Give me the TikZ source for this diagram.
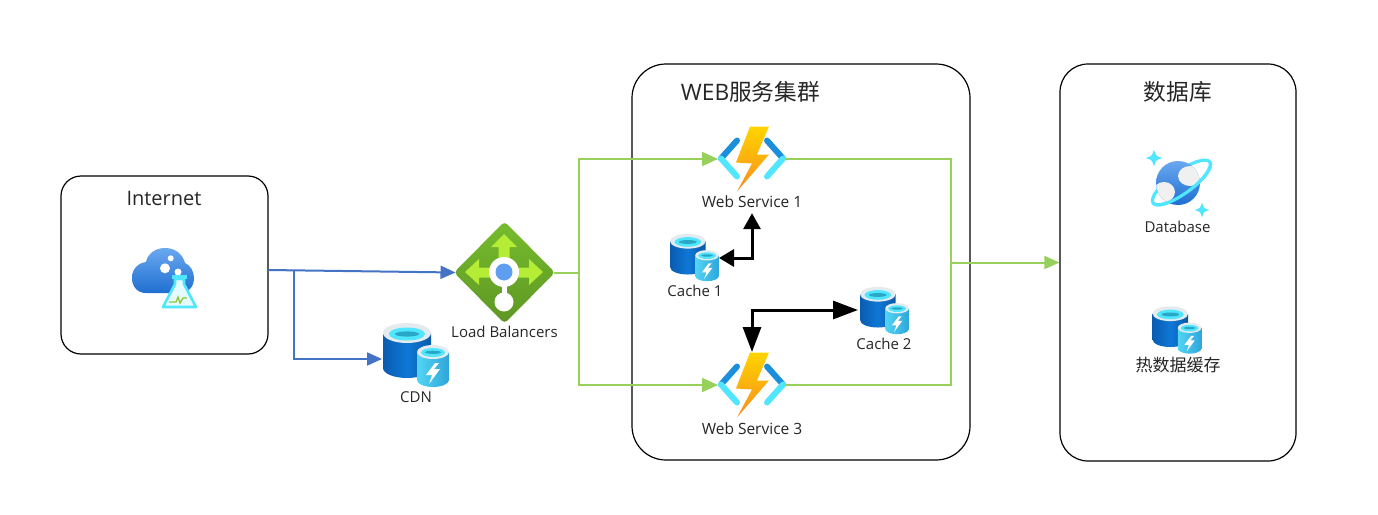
\documentclass[tikz,border=0pt]{standalone}
\usepackage{fontspec}
\setmainfont{Open Sans}
\newfontfamily\cjk{Noto Sans CJK SC}
\usetikzlibrary{arrows.meta}
\definecolor{bluel}{HTML}{4472C4}
\definecolor{greenl}{HTML}{97D05A}
\definecolor{cyanA}{HTML}{50E6FF}
\definecolor{bigL}{HTML}{0A5CB0}
\definecolor{bigM}{HTML}{0E78D6}
\definecolor{bigR}{HTML}{0A5AA8}
\definecolor{rimC}{HTML}{E3EBEF}
\definecolor{innerD}{HTML}{2AA6C6}
\definecolor{smallL}{HTML}{52D4F4}
\definecolor{smallR}{HTML}{2FA6DA}
\definecolor{boltT}{HTML}{FFD400}
\definecolor{boltB}{HTML}{F78D1E}
\definecolor{darkB}{HTML}{1B8FDC}
\definecolor{skyT}{HTML}{6AA8F0}
\definecolor{skyB}{HTML}{1F6FD0}
\definecolor{lbT}{HTML}{76BC2D}
\definecolor{lbB}{HTML}{5E9624}
\definecolor{limeA}{HTML}{B4EC36}
\definecolor{dotB}{HTML}{5EA0EF}
\definecolor{pulseG}{HTML}{8CC83C}
\definecolor{flaskF}{HTML}{E6FBFF}
\tikzset{
 box/.style={draw=black,line width=1.2pt,fill=white},
 title/.style={font=\fontsize{20}{24}\selectfont,text=black!85},
 bigtitle/.style={font=\fontsize{22.7}{27}\selectfont,text=black!85},
 label/.style={font=\fontsize{15}{18}\selectfont,text=black!85,inner sep=0pt},
 icon/.style={inner sep=0pt,outer sep=0pt},
 blueline/.style={draw=bluel,line width=2pt},
 greenline/.style={draw=greenl,line width=2pt},
 blackline/.style={draw=black,line width=3pt},
 dbicon/.pic={
  % big cylinder
  \path[left color=bigL,right color=bigR,middle color=bigM] (-33,-22) -- (-33,13) arc[start angle=180,end angle=360,x radius=24,y radius=-10] -- (15,-22) -- cycle;
  \fill[rimC] (-9,-22) ellipse [x radius=24,y radius=10];
  \fill[cyanA] (-9,-21) ellipse [x radius=18,y radius=6.5];
  \fill[innerD] (-9,-21) ellipse [x radius=12,y radius=2.6];
  % small cylinder
  \path[left color=smallL,right color=smallR] (1,-3) -- (1,25) arc[start angle=180,end angle=360,x radius=16,y radius=-7] -- (33,-3) -- cycle;
  \fill[rimC] (17,-3) ellipse [x radius=16,y radius=7];
  \fill[cyanA] (17,-2.5) ellipse [x radius=12,y radius=4.5];
  \fill[innerD] (17,-2.7) ellipse [x radius=8,y radius=1.6];
  \fill[white] (19,8) -- (10,20) -- (16,20) -- (13,29) -- (24,14) -- (18,14) -- (23,8) -- cycle;
 },
 funcicon/.pic={
  \path[top color=boltT,bottom color=boltB] (-2,-33) -- (17,-33) -- (5,-5) -- (17,-5) -- (-15,32) -- (0,4) -- (-16,3) -- cycle;
  \draw[line width=6pt,draw=darkB,line cap=round] (-15,-19) -- (-31,-1);
  \draw[line width=6pt,draw=cyanA,line cap=round] (-31,-1) -- (-15,17);
  \draw[line width=6pt,draw=darkB,line cap=round] (15,-19) -- (31,-1);
  \draw[line width=6pt,draw=cyanA,line cap=round] (31,-1) -- (15,17);
 }
}
\begin{document}
\begin{tikzpicture}[x=1pt,y=-1pt]
\useasboundingbox (0,0) rectangle (1378,514);
\fill[white] (0,0) rectangle (1378,514);
% containers
\node[box,rounded corners=20pt,minimum width=207pt,minimum height=178pt] (inet) at (164.5,265) {};
\node[box,rounded corners=34pt,minimum width=338pt,minimum height=396pt] (web) at (801,262) {};
\node[box,rounded corners=28pt,minimum width=236pt,minimum height=397pt] (dbbox) at (1178,262.5) {};
\node[title] (inettitle) at (164,198) {Internet};
\node[bigtitle] (webtitle) at (750.5,92) {WEB{\cjk 服务集群}};
\node[bigtitle] (dbtitle) at (1178,92) {\cjk 数据库};
% icon holders
\node[icon,minimum width=62pt,minimum height=62pt] (lab) at (164,278) {};
\node[icon,minimum width=98pt,minimum height=98pt] (lb) at (504.5,272.5) {};
\node[icon,minimum width=68pt,minimum height=72pt] (cdn) at (416,359) {};
\node[icon,minimum width=68pt,minimum height=66pt] (ws1) at (752,159) {};
\node[icon,minimum width=68pt,minimum height=66pt] (ws3) at (752,385) {};
\node[icon,minimum width=49pt,minimum height=47pt] (cache1) at (694.5,258) {};
\node[icon,minimum width=53pt,minimum height=47pt] (cache2) at (884.5,310) {};
\node[icon,minimum width=60pt,minimum height=62pt] (cosmos) at (1179,184) {};
\node[icon,minimum width=49pt,minimum height=47pt] (hot) at (1177,330) {};
% labels
\node[label] (lbllb) at (504.5,331.5) {Load Balancers};
\node[label] (lblcdn) at (416,397.5) {CDN};
\node[label,font=\fontsize{15.5}{22}\selectfont,minimum height=22pt] (lblws1) at (752,202) {Web Service 1};
\node[label,font=\fontsize{15.5}{22}\selectfont] (lblws3) at (752,429) {Web Service 3};
\node[label] (lblc1) at (695,291) {Cache 1};
\node[label] (lblc2) at (884,344) {Cache 2};
\node[label] (lbldb) at (1177.5,227) {Database};
\node[label,font=\fontsize{17}{20}\selectfont\cjk] (lblhot) at (1178,365) {热数据缓存};
% connectors
\coordinate (inetout) at (268,270);
\coordinate (blueturn) at (294,270);
\coordinate (greenjoin) at (579,272.5);
\coordinate (dbjoin) at (951,262.5);
\coordinate (rightside) at (951,159);
\draw[blueline,-{Triangle[length=15pt,width=13pt]}] (inetout) -- (lb.west);
\draw[blueline,-{Triangle[length=15pt,width=13pt]}] (blueturn) |- (cdn.west);
\draw[greenline] (lb.east) -- (greenjoin);
\draw[greenline,-{Triangle[length=16pt,width=14pt]}] (greenjoin) |- (ws1.west);
\draw[greenline,-{Triangle[length=16pt,width=14pt]}] (greenjoin) |- (ws3.west);
\draw[greenline] (ws1.east) -- (rightside) |- (ws3.east);
\draw[greenline,-{Triangle[length=15pt,width=13pt]}] (dbjoin) -- (dbbox.west);
\draw[blackline,{Triangle[length=15pt,width=17pt]}-{Triangle[length=16pt,width=17pt]}] (cache1.east) -| (lblws1.south);
\draw[blackline,{Triangle[length=25pt,width=18pt]}-{Triangle[length=25pt,width=18pt]}] (ws3.north) |- (cache2.west);
% Internet icon
\path[top color=skyT,bottom color=skyB]
 (146,293) .. controls (137,293) and (132,286) .. (132,278)
 .. controls (132,269) and (138,263) .. (146,262)
 .. controls (148,253) and (156,248) .. (165,248)
 .. controls (176,248) and (183,255) .. (185,263)
 .. controls (190,265) and (194,271) .. (194,278)
 .. controls (194,287) and (188,293) .. (180,293) -- cycle;
\fill[white] (165,268.3) circle (5);
\fill[white] (170.7,258.3) circle (3);
\fill[white] (178,272) circle (3.5);
\draw[draw=cyanA,fill=flaskF,line width=2.6pt,line join=round] (175,279) -- (184,279) -- (184,284) -- (196,307) -- (163,307) -- (175,284) -- cycle;
\draw[cyanA,line width=3.2pt] (172,277) -- (187,277);
\draw[draw=pulseG,line width=1.3pt] (169,302) -- (176,302) -- (178,297) -- (180,303) -- (183,298) -- (187,298);
% Load balancer icon
\path[top color=lbT,bottom color=lbB,rounded corners=4pt] (504.5,221.5) -- (555,272.5) -- (504.5,323.5) -- (454,272.5) -- cycle;
\fill[limeA] (504,234) -- (517,247) -- (509.5,247) -- (509.5,267.5) -- (529,267.5) -- (529,259) -- (543,272) -- (529,285) -- (529,277.5) -- (479,277.5) -- (479,285) -- (465,272) -- (479,259) -- (479,267.5) -- (498.5,267.5) -- (498.5,247) -- (491,247) -- cycle;
\draw[white,line width=5pt] (504,272) -- (504,302);
\fill[white] (504,302) circle (9.5);
\fill[white] (504,272) circle (15);
\fill[dotB] (504,272) circle (8.5);
% function icons
\pic at (752,159.5) {funcicon};
\pic at (752,385.5) {funcicon};
% cache / db icons
\pic at (416,355) {dbicon};
\pic[scale=.74] at (694.5,257.5) {dbicon};
\pic[scale=.74] at (884.5,310.5) {dbicon};
\pic[scale=.74] at (1177,330) {dbicon};
% Cosmos icon
\begin{scope}[shift={(1181.5,182.5)},x=1pt,y=1pt,rotate=36]
 \draw[cyanA,line width=3.2pt] (0,0) ellipse [x radius=35,y radius=11];
\end{scope}
\path[top color=skyT,bottom color=skyB] (1178,183) circle (22);
\begin{scope}
 \clip (1178,183) circle (22);
 \fill[black!6] (1190,176) ellipse [x radius=12,y radius=10];
 \fill[black!6] (1164,192) ellipse [x radius=11,y radius=10];
\end{scope}
\begin{scope}[shift={(1181.5,182.5)},x=1pt,y=1pt,rotate=36]
 \draw[cyanA,line width=3.2pt] (-35,0) arc[start angle=180,end angle=360,x radius=35,y radius=11];
\end{scope}
\fill[cyanA] (1154,149.5) .. controls (1155.5,155.5) and (1156.5,156.5) .. (1162.5,158) .. controls (1156.5,159.5) and (1155.5,160.5) .. (1154,166.5) .. controls (1152.5,160.5) and (1151.5,159.5) .. (1145.5,158) .. controls (1151.5,156.5) and (1152.5,155.5) .. (1154,149.5) -- cycle;
\fill[cyanA] (1202,202.5) .. controls (1203.5,208) and (1204,208.5) .. (1209.5,210) .. controls (1204,211.5) and (1203.5,212) .. (1202,217.5) .. controls (1200.5,212) and (1200,211.5) .. (1194.5,210) .. controls (1200,208.5) and (1200.5,208) .. (1202,202.5) -- cycle;
\end{tikzpicture}
\end{document}
